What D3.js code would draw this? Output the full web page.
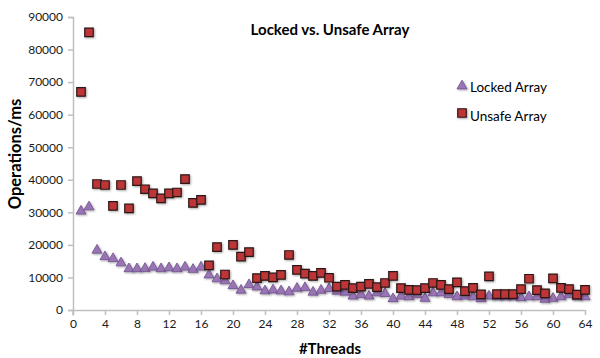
<!DOCTYPE html>
<html>
<head>
<meta charset="utf-8">
<script src="https://cdn.jsdelivr.net/npm/d3@7"></script>
<style>
  html, body { margin: 0; padding: 0; background: #fff; }
  svg { display: block; font-family: Lato, "Open Sans", sans-serif; }
</style>
</head>
<body>
<svg id="chart" width="600" height="358"></svg>
<script>
const threads = [1,2,3,4,5,6,7,8,9,10,11,12,13,14,15,16,17,18,19,20,21,22,23,24,25,26,27,28,29,30,31,32,
  33,34,35,36,37,38,39,40,41,42,43,44,45,46,47,48,49,50,51,52,53,54,55,56,57,58,59,60,61,62,63,64];

const lockedArray = [30200,31500,18200,16200,15600,14300,12500,12500,12600,13000,
  12500,12800,12500,13000,12300,13000,10600,9400,8800,7300,
  5900,7600,6900,5700,6000,5700,5400,6500,6700,5300,
  5900,6400,5600,5300,4100,4600,4100,5100,4900,3300,
  4100,3900,4500,3400,5100,5100,4600,3900,4100,3900,
  3300,4100,3900,3900,3900,3600,3900,3900,3100,3400,
  3900,4600,3900,3900];

const unsafeArray = [67000,85300,38700,38400,32000,38400,31200,39600,37100,35800,
  34300,35800,36100,40200,32900,33800,13700,19300,10900,20000,
  16400,17800,9800,10500,10000,10800,16900,12300,11200,10500,
  11400,9900,7200,7700,6700,7200,8000,7000,8300,10500,
  6700,6200,6100,6700,8300,7700,6400,8500,5800,6800,
  4800,10300,4900,4900,4900,6400,9600,6100,5100,9700,
  6800,6400,4700,6200];

const xTicks = [0,4,8,12,16,20,24,28,32,36,40,44,48,52,56,60,64];
const yTicks = [0,10000,20000,30000,40000,50000,60000,70000,80000,90000];
const seriesNames = ["Locked Array", "Unsafe Array"];
const title = "Locked vs. Unsafe Array";
const xTitle = "#Threads";
const yTitle = "Operations/ms";

const svg = d3.select("#chart");
const axisColor = "#bfbfbf";
const purple = "#9a74b6", purpleStroke = "#6f4f8a";
const red = "#be3639", redStroke = "#2b1414";

const x = d3.scaleLinear().domain([0, 64]).range([73, 585]);
const y = d3.scaleLinear().domain([0, 90000]).range([310, 17]);

// drop shadow
const defs = svg.append("defs");
const f = defs.append("filter").attr("id", "sh").attr("x", "-50%").attr("y", "-50%").attr("width", "200%").attr("height", "200%");
f.append("feDropShadow").attr("dx", 1).attr("dy", 1).attr("stdDeviation", 0.8).attr("flood-color", "#000").attr("flood-opacity", 0.35);

// axes
const yAxis = svg.append("g").attr("transform", `translate(${x(0)},0)`)
  .call(d3.axisLeft(y).tickValues(yTicks).tickSize(5).tickPadding(5).tickFormat(d3.format("d")));
const xAxis = svg.append("g").attr("transform", `translate(0,${y(0)})`)
  .call(d3.axisBottom(x).tickValues(xTicks).tickSize(5).tickPadding(4).tickFormat(d3.format("d")));
[xAxis, yAxis].forEach(g => {
  g.selectAll("path, line").attr("stroke", axisColor).attr("stroke-width", 1.5);
  g.selectAll("text").attr("fill", "#1a1a1a").style("font-size", "12px").style("font-family", "Lato, 'Open Sans', sans-serif");
});
xAxis.select(".domain").attr("d", `M${x(0)},0.5V5.5M${x(0)},0.5H${x(64)}`);

const tri = d3.symbol().type(d3.symbolTriangle).size(44);
const sq = d3.symbol().type(d3.symbolSquare).size(72);

// Locked (triangles)
svg.append("g").selectAll("path").data(threads.map((t, i) => [t, lockedArray[i]]))
  .join("path")
  .attr("d", tri)
  .attr("transform", d => `translate(${x(d[0])},${y(d[1]) - 0.5})`)
  .attr("fill", purple).attr("stroke", purpleStroke).attr("stroke-width", 0.8)
  .attr("filter", "url(#sh)");

// Unsafe (squares)
svg.append("g").selectAll("path").data(threads.map((t, i) => [t, unsafeArray[i]]))
  .join("path")
  .attr("d", sq)
  .attr("transform", d => `translate(${x(d[0])},${y(d[1])})`)
  .attr("fill", red).attr("stroke", redStroke).attr("stroke-width", 1.2)
  .attr("filter", "url(#sh)");

// title
svg.append("text").attr("x", 330).attr("y", 35).attr("text-anchor", "middle")
  .style("font-weight", "bold").style("font-size", "15px").attr("fill", "#000").text(title);

// axis titles
svg.append("text").attr("x", 330).attr("y", 354).attr("text-anchor", "middle")
  .style("font-weight", "bold").style("font-size", "15px").attr("fill", "#000").text(xTitle);
svg.append("text").attr("transform", "translate(21,154) rotate(-90)").attr("text-anchor", "middle")
  .style("font-weight", "bold").style("font-size", "16.5px").attr("fill", "#000").text(yTitle);

// legend
const lg = svg.append("g");
lg.append("path").attr("d", tri).attr("transform", "translate(462,86)")
  .attr("fill", purple).attr("stroke", purpleStroke).attr("stroke-width", 0.8).attr("filter", "url(#sh)");
lg.append("text").attr("x", 470).attr("y", 92).style("font-size", "13.5px").attr("fill", "#000").text(seriesNames[0]);
lg.append("path").attr("d", sq).attr("transform", "translate(462,113)")
  .attr("fill", red).attr("stroke", redStroke).attr("stroke-width", 1.2).attr("filter", "url(#sh)");
lg.append("text").attr("x", 470).attr("y", 121).style("font-size", "13.5px").attr("fill", "#000").text(seriesNames[1]);
</script>
</body>
</html>
